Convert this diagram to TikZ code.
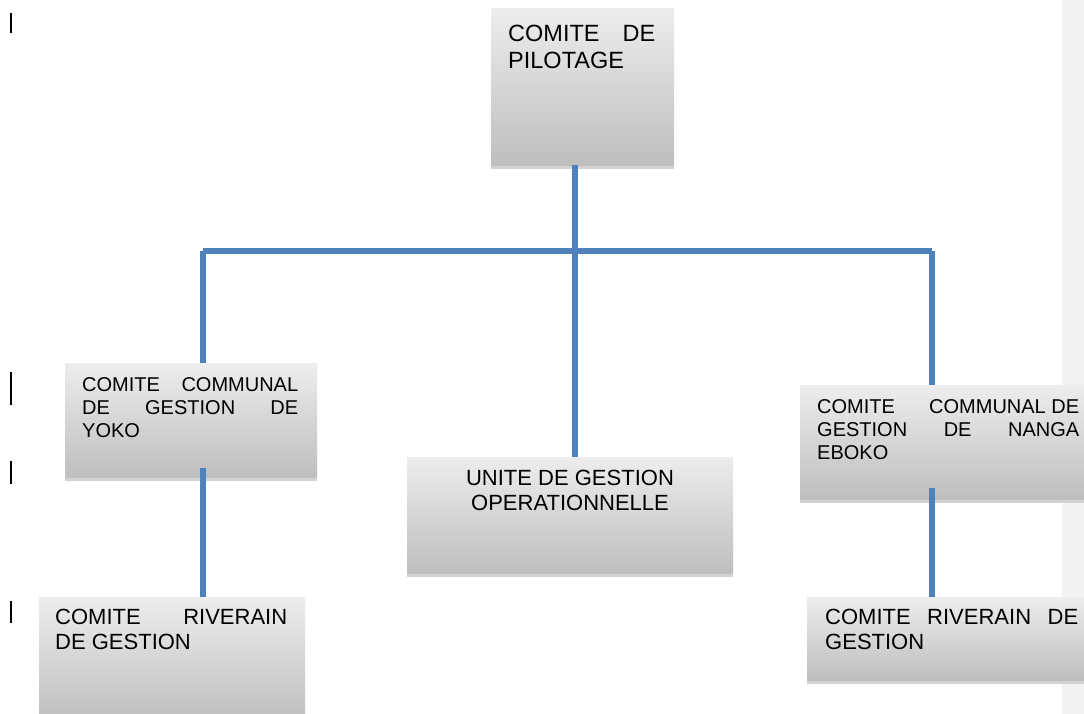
\documentclass[tikz,border=0pt]{standalone}
\usepackage{fontspec}
\setmainfont{Liberation Sans}
\usetikzlibrary{shadows}

\definecolor{linkblue}{RGB}{79,129,189}
\definecolor{boxtop}{RGB}{237,237,237}
\definecolor{boxbot}{RGB}{190,190,190}
\definecolor{boxshadow}{RGB}{210,210,210}
\definecolor{bandgray}{RGB}{242,242,242}

\hyphenpenalty=10000
\exhyphenpenalty=10000
\tolerance=10000
\hbadness=10000

\tikzset{
  box/.style 2 args={anchor=north west, inner sep=0pt, minimum width=#1,
    minimum height=#2, top color=boxtop, bottom color=boxbot,
    drop shadow={shadow xshift=0pt, shadow yshift=-4pt, fill=boxshadow, opacity=1}},
  txt/.style={anchor=north west, inner sep=0pt, align=justify},
  big/.style={font=\fontsize{23.5}{27}\selectfont},
  mid/.style={font=\fontsize{22}{25}\selectfont},
  small/.style={font=\fontsize{20}{23}\selectfont},
  link/.style={draw=linkblue, line width=6.5pt}
}

\begin{document}
\begin{tikzpicture}[x=1pt, y=-1pt]
  \useasboundingbox (0,0) rectangle (1084,714);
  \clip (0,0) rectangle (1084,714);

  % grey band on the right
  \fill[bandgray] (1062,0) rectangle (1084,714);

  % boxes
  \node[box={183}{157}] (pil) at (491,8) {};
  \node[box={252}{114}] (yoko) at (65,363) {};
  \node[box={326}{116}] (unite) at (407,457) {};
  \node[box={300}{114}] (nanga) at (800,385) {};
  \node[box={266}{125}] (riv1) at (39,597) {};
  \node[box={300}{83}] (riv2) at (807,597) {};

  % texts
  \node[txt, big, text width=147pt] (pil-t) at (508,25) {COMITE DE\linebreak PILOTAGE};
  \node[txt, small, text width=216pt] (yoko-t) at (82,377)
    {COMITE COMMUNAL\linebreak DE GESTION DE\linebreak YOKO};
  \node[mid, anchor=north, inner sep=0pt, align=center] (unite-t) at (570,470)
    {UNITE DE GESTION\\OPERATIONNELLE};
  \node[txt, small, text width=262pt] (nanga-t) at (817,399)
    {COMITE\hfill COMMUNAL DE\linebreak GESTION DE NANGA\linebreak EBOKO};
  \node[txt, mid, text width=232pt] (riv1-t) at (55,609)
    {COMITE RIVERAIN\linebreak DE GESTION};
  \node[txt, mid, text width=253pt] (riv2-t) at (825,609)
    {COMITE RIVERAIN DE\linebreak GESTION};

  % connectors
  \coordinate (busL) at (203,251);
  \coordinate (busM) at (575,251);
  \coordinate (busR) at (932,251);
  \draw[link] (busM |- pil.south) -- (busM |- unite.north);
  \draw[link] (busL) -- (busR);
  \draw[link] (busL) -- (busL |- yoko.north);
  \draw[link] (busR) -- (busR |- nanga.north);
  \draw[link] ([yshift=9pt]busL |- yoko.south) -- (busL |- riv1.north);
  \draw[link] ([yshift=11pt]busR |- nanga.south) -- (busR |- riv2.north);

  % change marks in the margin
  \foreach \ya/\yb in {13/33, 372/405, 461/484, 601/623} {
    \draw[line width=2pt] (11,\ya) -- (11,\yb);
  }
\end{tikzpicture}
\end{document}
